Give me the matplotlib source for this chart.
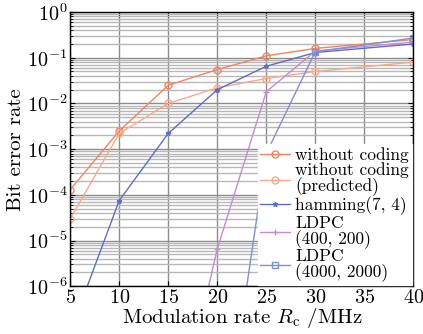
import numpy as np
import matplotlib
matplotlib.use("Agg")
import matplotlib.pyplot as plt
from matplotlib.ticker import LogLocator, NullFormatter, MultipleLocator

# data
rate = [5, 10, 15, 20, 25, 30, 40]
ber_uncoded = [1.3e-4, 2.5e-3, 2.5e-2, 5.5e-2, 1.1e-1, 1.6e-1, 2.5e-1]
ber_uncoded_pred = [3.0e-5, 2.2e-3, 1.0e-2, 2.2e-2, 3.5e-2, 5.0e-2, 8.0e-2]
ber_hamming = [1.0e-7, 7.5e-5, 2.2e-3, 2.0e-2, 6.5e-2, 1.3e-1, 2.0e-1]
rate_ldpc400 = [15, 20, 25, 30, 40]
ber_ldpc400 = [1.5e-10, 6.5e-6, 1.8e-2, 1.4e-1, 2.2e-1]
rate_ldpc4000 = [20, 25, 30, 40]
ber_ldpc4000 = [4e-11, 8.0e-4, 1.35e-1, 2.7e-1]

labels = ['without coding', 'without coding\n(predicted)', 'hamming(7, 4)',
          'LDPC\n(400, 200)', 'LDPC\n(4000, 2000)']

plt.rcParams['font.family'] = 'serif'
plt.rcParams['font.serif'] = ['cmr10']
plt.rcParams['mathtext.fontset'] = 'cm'
plt.rcParams['axes.formatter.use_mathtext'] = True

fig = plt.figure(figsize=(4.23, 3.34), dpi=100)
ax = fig.add_axes([0.166, 0.143, 0.811, 0.821])

ax.plot(rate, ber_uncoded, 'o-', color='#f4845f', ms=5, mfc='none', lw=1.0, label=labels[0])
ax.plot(rate, ber_uncoded_pred, 'o-', color='#f9a98c', ms=5, mfc='none', lw=1.0, label=labels[1])
ax.plot(rate, ber_hamming, '*-', color='#5b6fc6', ms=3.5, lw=1.0, label=labels[2])
ax.plot(rate_ldpc400, ber_ldpc400, '+-', color='#c48ccf', ms=5, lw=1.0, label=labels[3])
ax.plot(rate_ldpc4000, ber_ldpc4000, 's-', color='#7f8fd8', ms=5, mfc='none', lw=1.0, label=labels[4])

ax.set_yscale('log')
ax.set_xlim(5, 40)
ax.set_ylim(1e-6, 1)
ax.xaxis.set_major_locator(MultipleLocator(5))
ax.yaxis.set_major_locator(LogLocator(base=10, numticks=10))
ax.yaxis.set_minor_locator(LogLocator(base=10, subs=np.arange(2, 10), numticks=20))
ax.yaxis.set_minor_formatter(NullFormatter())

ax.grid(True, which='major', color='#8c8c8c', lw=1.0)
ax.grid(True, which='minor', axis='y', color='#b8b8b8', lw=1.0)
ax.set_axisbelow(True)

ax.tick_params(which='both', direction='in', top=True, right=True, labelsize=14.5, pad=2)
for s in ax.spines.values():
    s.set_linewidth(1.0)

ax.set_xlabel(r'Modulation rate $R_{\rm c}$ /MHz', fontsize=15, labelpad=-1)
ax.set_ylabel('Bit error rate', fontsize=15, labelpad=1)

leg = ax.legend(loc='lower right', fontsize=12.5, frameon=True, fancybox=False,
                edgecolor='white', framealpha=1.0, handlelength=1.7,
                handletextpad=0.3, labelspacing=0.0, borderpad=0.15,
                borderaxespad=0.1)
for t in leg.get_texts():
    t.set_linespacing(0.95)

fig.savefig('out.png', dpi=100)
